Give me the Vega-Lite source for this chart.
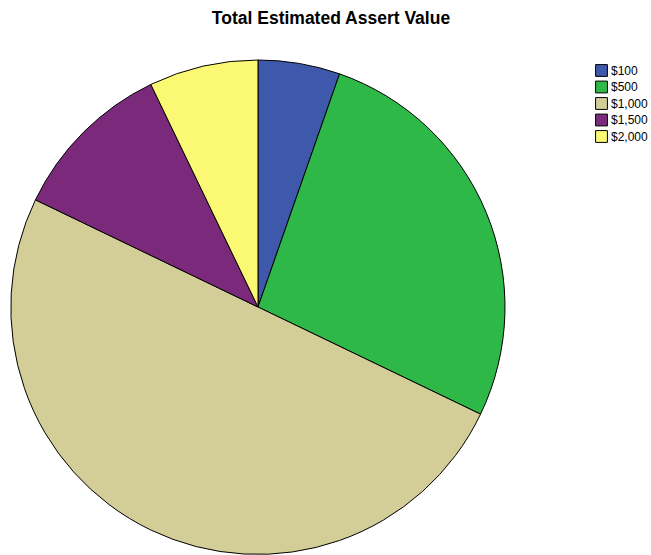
{
  "$schema": "https://vega.github.io/schema/vega-lite/v6.json",
  "width": 496,
  "height": 496,
  "autosize": {"type": "none"},
  "padding": {"top": 59, "left": 10, "right": 145, "bottom": 0},
  "title": {
    "text": "Total Estimated Assert Value",
    "font": "Liberation Sans",
    "fontSize": 17.5,
    "fontWeight": "bold",
    "color": "black",
    "anchor": "middle",
    "dx": 73,
    "offset": 31
  },
  "data": {
    "values": [
      {"value": "$100", "order": 1, "count": 3},
      {"value": "$500", "order": 2, "count": 15},
      {"value": "$1,000", "order": 3, "count": 28},
      {"value": "$1,500", "order": 4, "count": 6},
      {"value": "$2,000", "order": 5, "count": 4}
    ]
  },
  "mark": {"type": "arc", "stroke": "black", "strokeWidth": 1, "outerRadius": 247},
  "encoding": {
    "theta": {"field": "count", "type": "quantitative", "stack": true},
    "order": {"field": "order", "type": "quantitative"},
    "color": {
      "field": "value",
      "type": "nominal",
      "sort": ["$100", "$500", "$1,000", "$1,500", "$2,000"],
      "scale": {
        "domain": ["$100", "$500", "$1,000", "$1,500", "$2,000"],
        "range": ["#3E58AC", "#2EB848", "#D3CE97", "#7B2A7B", "#FBF873"]
      },
      "legend": {
        "title": null,
        "orient": "none",
        "legendX": 585,
        "legendY": 5,
        "symbolType": "square",
        "symbolSize": 140,
        "symbolStrokeColor": "black",
        "symbolStrokeWidth": 1,
        "symbolOpacity": 1,
        "labelFont": "Liberation Sans",
        "labelFontSize": 12,
        "labelColor": "black",
        "labelOffset": 3,
        "rowPadding": -0.5
      }
    }
  },
  "config": {"view": {"stroke": null}, "background": "white"}
}
